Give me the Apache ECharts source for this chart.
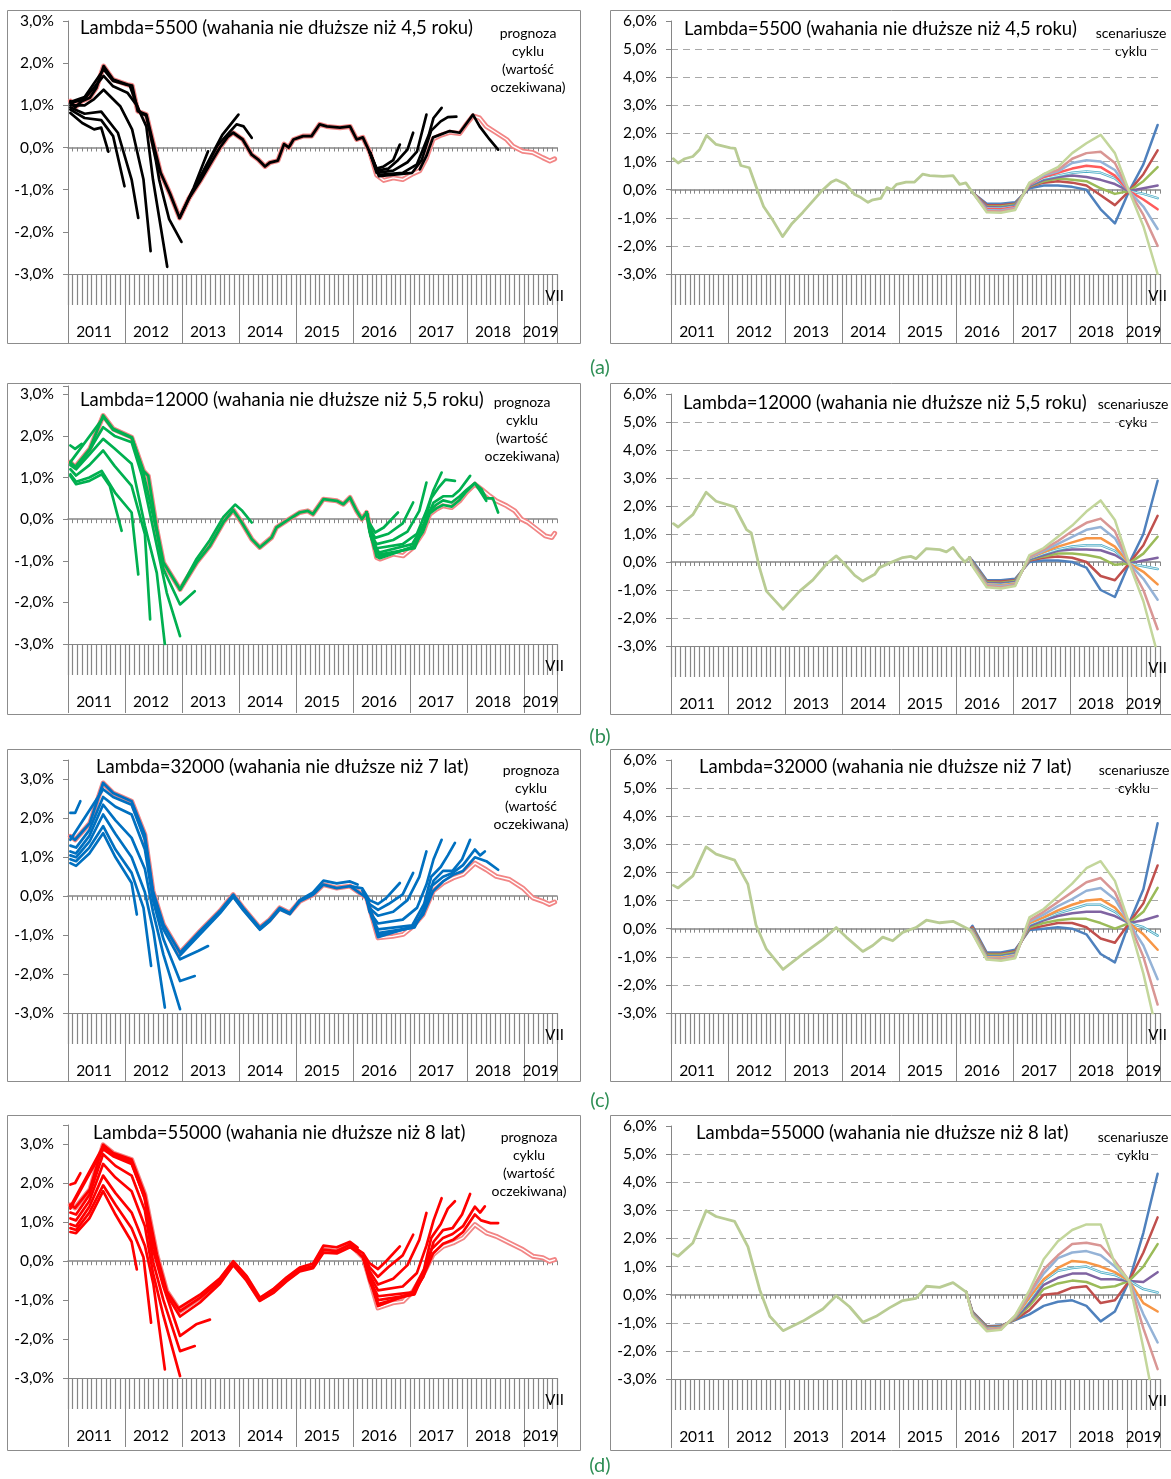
<!DOCTYPE html>
<html>
<head>
<meta charset="utf-8">
<script src="https://cdn.jsdelivr.net/npm/echarts@6/dist/echarts.min.js"></script>
<style>
  html, body { margin: 0; padding: 0; background: #fff; }
  #chart { width: 1171px; height: 1479px; }
</style>
</head>
<body>
<div id="chart"></div>
<script>
// miesiące 2011-01 .. 2019-07 (103 kategorie)
const YEARS = ['2011', '2012', '2013', '2014', '2015', '2016', '2017', '2018', '2019'];
const LAST_MONTH = 'VII';
const MONTHS = [];
YEARS.forEach(y => {
  for (let k = 1; k <= 12; k++) {
    if (y === '2019' && k > 7) break;
    MONTHS.push(y + '-' + (k < 10 ? '0' : '') + k);
  }
});

// [miesiąc od 2011-01, cykl %] - ostateczna ocena + prognoza (różowa linia)
const finalA = [[0,1.1],[1,0.95],[2.4,1.1],[4.1,1.18],[5.5,1.42],[7,1.93],[9,1.61],[12,1.49],[13,1.47],[14.2,0.86],[16,0.78],[17.4,0.12],[19,-0.6],[21,-1.1],[23,-1.67],[25,-1.2],[27.3,-0.8],[29.4,-0.4],[31.5,0],[33.2,0.26],[34.3,0.35],[36.3,0.19],[38.2,-0.17],[39.5,-0.28],[41,-0.45],[42,-0.36],[43.7,-0.31],[45,0.08],[46,0.0],[47,0.19],[49,0.27],[50.8,0.27],[52.5,0.55],[54,0.5],[56.8,0.47],[58.9,0.5],[60.3,0.19],[61.6,0.24],[63.1,-0.12],[64.5,-0.65],[66,-0.78],[68,-0.72],[70,-0.76],[72.2,-0.62],[73.6,-0.55],[75,-0.25],[76.4,0.2],[77.8,0.28],[79.9,0.36],[82,0.33],[83.4,0.55],[84.8,0.75],[86.2,0.7],[87.6,0.5],[89.7,0.35],[91.9,0.19],[93.2,0.03],[95.3,-0.09],[97.4,-0.12],[99.5,-0.24],[101,-0.32],[102,-0.27]];
const finalB = [[0,1.37],[1,1.25],[4.1,1.69],[6.9,2.49],[9,2.17],[12.9,1.97],[15.4,1.16],[16.4,1.04],[18.2,-0.24],[19.6,-1.04],[23.1,-1.69],[26.6,-1.04],[29.4,-0.64],[32.2,-0.08],[34.3,0.22],[36.1,-0.08],[38.2,-0.48],[39.9,-0.68],[42.4,-0.44],[43.4,-0.2],[45.5,-0.04],[48.3,0.16],[50,0.2],[51.1,0.12],[53.3,0.48],[56.1,0.44],[57.5,0.36],[58.9,0.52],[60.3,0.2],[61.4,0.0],[62.4,0.16],[64.5,-0.92],[65.2,-0.96],[68,-0.84],[70.1,-0.88],[72.2,-0.68],[74.3,-0.32],[75.7,0.12],[77.1,0.24],[78.5,0.32],[80.3,0.28],[82,0.44],[83.4,0.64],[85.2,0.84],[86.6,0.72],[88.3,0.56],[89.7,0.44],[91.9,0.32],[93.6,0.2],[95,0.0],[96.4,-0.08],[98.2,-0.24],[100,-0.4],[101.4,-0.44],[102,-0.34]];
const finalC = [[0,1.54],[1,1.45],[4.1,1.88],[6.9,2.91],[9,2.65],[12.9,2.44],[15.7,1.58],[17.4,0.13],[19.6,-0.73],[23.1,-1.45],[27.3,-0.9],[31.5,-0.38],[34.3,0.04],[36.4,-0.3],[39.9,-0.81],[42,-0.6],[44.1,-0.3],[46.2,-0.43],[48.3,-0.13],[51.1,0.04],[53.3,0.3],[56.1,0.21],[58.9,0.26],[62.4,-0.04],[64.8,-1.07],[67.9,-1.03],[70.1,-0.98],[72.2,-0.77],[74.3,-0.47],[76.4,0.13],[78.5,0.34],[80.6,0.47],[82.7,0.56],[85.2,0.85],[87.6,0.68],[89.7,0.51],[92.5,0.43],[95.3,0.21],[97.4,-0.04],[99.5,-0.13],[100.9,-0.21],[102,-0.15]];
const finalD = [[0,1.45],[1,1.37],[4.1,1.84],[6.9,2.99],[9,2.78],[12.9,2.61],[15.7,1.71],[18.2,0.17],[20.3,-0.77],[23.1,-1.28],[27.3,-0.94],[31.5,-0.51],[34.3,-0.04],[37.1,-0.43],[39.9,-0.98],[42.7,-0.77],[45.5,-0.47],[48.3,-0.21],[51.1,-0.13],[53.3,0.3],[56.1,0.26],[58.9,0.43],[61.7,0.09],[64.8,-1.2],[67.9,-1.07],[70.1,-1.03],[72.2,-0.77],[74.3,-0.34],[76.4,0.17],[78.5,0.38],[80.6,0.47],[82.7,0.6],[85.2,0.94],[87.6,0.73],[89.7,0.64],[92.5,0.47],[95.3,0.3],[97.4,0.13],[99.5,0.09],[100.9,0.0],[102,0.04]];

// kolejne oceny cyklu w czasie rzeczywistym (każda kończy się na innej dacie)
const vintagesA = [
  [[0,0.82],[2.5,0.58],[5,0.43],[6.5,0.47],[8,-0.1]],
  [[0,0.9],[3,0.7],[6.5,0.65],[9,0.27],[11.4,-0.92]],
  [[0,0.95],[3,0.8],[6.5,0.85],[10,0.35],[12.9,-0.76],[14.3,-1.67]],
  [[0,1.0],[3,1.0],[5,1.15],[7,1.37],[10.5,0.98],[13,0.43],[15.4,-0.76],[16.9,-2.46]],
  [[0,1.05],[3,1.15],[7,1.7],[9,1.45],[12,1.3],[14,1.0],[16,0.5],[17.4,-0.76],[20.4,-2.83]],
  [[0,1.08],[3,1.2],[7,1.85],[9,1.58],[12.5,1.47],[14.5,0.85],[16,0.75],[18,-0.3],[18.7,-0.76],[20.8,-1.7],[23.4,-2.24]],
  [[23,-1.67],[26,-0.95],[29,-0.09]],
  [[25,-1.2],[28.5,-0.45],[32,0.3],[35.4,0.78]],
  [[27,-0.8],[31,0.05],[35,0.55],[36.5,0.5],[38.2,0.23]],
  [[63.1,-0.12],[64.5,-0.5],[66,-0.45],[68,-0.3],[69.4,0.07]],
  [[63.1,-0.12],[64.5,-0.55],[67,-0.5],[69,-0.3],[71,-0.05],[72.2,0.35]],
  [[63.1,-0.12],[64.5,-0.6],[68,-0.55],[71,-0.35],[73,-0.1],[75,0.78]],
  [[63.1,-0.12],[65,-0.65],[70,-0.6],[73,-0.4],[75.5,0.3],[76.5,0.7],[78.2,0.94]],
  [[63.1,-0.12],[65,-0.68],[72,-0.6],[74,-0.3],[76,0.4],[78,0.62],[79.5,0.72],[81.3,0.73]],
  [[73.6,-0.52],[75,-0.2],[76.4,0.24],[79.9,0.39],[82,0.35],[84.8,0.78],[86.2,0.5],[88.3,0.19],[90.1,-0.05]]
];
const vintagesB = [
  [[0,1.77],[1,1.69],[2.4,1.81]],
  [[0,1.04],[1.2,0.84],[4,0.92],[6.6,1.08],[8.3,0.8],[10.8,-0.28]],
  [[0,1.08],[1.2,0.9],[4,1.0],[6.6,1.16],[9.4,0.64],[12.9,0.16],[14.3,-1.33]],
  [[0,1.2],[1.2,1.05],[4,1.3],[6.9,1.65],[9.3,1.28],[12.9,0.8],[15.7,-0.36],[16.8,-2.41]],
  [[0,1.3],[1.2,1.2],[4,1.55],[6.9,1.93],[9.3,1.7],[12.9,1.33],[15.7,-0.16],[18.2,-1.29],[19.9,-3.01]],
  [[0,1.35],[1.2,1.25],[4,1.65],[6.9,2.21],[9.3,2.0],[12.9,1.85],[15.1,1.04],[18.2,-0.64],[20.3,-1.77],[23.1,-2.81]],
  [[0,1.37],[7,2.45],[9,2.15],[13,1.95],[15.4,1.1],[18.2,-0.3],[19.6,-1.2],[23.1,-2.05],[26.2,-1.73]],
  [[23.1,-1.69],[26.6,-0.95],[29.4,-0.5],[32.2,0.05],[34.7,0.35],[36.2,0.2],[38.2,-0.08]],
  [[62.4,0.16],[63,-0.1],[64.2,-0.32],[66,-0.2],[69,0.16]],
  [[62.4,0.16],[63,-0.2],[64.2,-0.45],[67,-0.35],[70,-0.1],[72.2,0.4]],
  [[62.4,0.16],[63,-0.3],[64.5,-0.6],[68,-0.5],[71,-0.3],[73.5,0.2],[75,0.88]],
  [[62.4,0.16],[63.2,-0.4],[64.5,-0.7],[70,-0.6],[73,-0.35],[75,0.2],[76.5,0.7],[78.2,1.12]],
  [[62.4,0.16],[63.5,-0.5],[65,-0.8],[72,-0.6],[74.5,-0.1],[76,0.5],[77.5,0.75],[79,0.95],[81,0.92]],
  [[62.4,0.16],[63.8,-0.6],[65,-0.85],[72.5,-0.7],[75,0.0],[76.5,0.4],[78.5,0.55],[80.5,0.55],[82,0.7],[84.2,1.04]],
  [[62.4,0.16],[64,-0.7],[65.2,-0.9],[72.2,-0.68],[74.3,-0.25],[75.7,0.2],[77.1,0.35],[78.5,0.45],[80.3,0.4],[82,0.55],[83.4,0.7],[85.2,0.87],[86.6,0.62],[87.6,0.44]],
  [[62.4,0.16],[64.5,-0.9],[65.2,-0.94],[72.2,-0.66],[74.3,-0.3],[75.7,0.14],[77.1,0.26],[78.5,0.34],[80.3,0.3],[82,0.46],[83.4,0.66],[85.2,0.86],[86.6,0.72],[87.6,0.5],[89,0.5],[90.1,0.16]]
];
const vintagesC = [
  [[0,2.14],[1,2.14],[2.1,2.44]],
  [[0,0.85],[1.2,0.78],[4,1.1],[6.9,1.62],[9.5,1.0],[12.9,0.34],[14,-0.47]],
  [[0,0.95],[1.2,0.9],[4,1.25],[6.9,1.8],[9.5,1.2],[12.9,0.6],[15.4,-0.3],[17,-1.79]],
  [[0,1.05],[1.2,1.0],[4,1.4],[6.9,2.1],[9.5,1.6],[12.9,1.0],[15.7,0.1],[17.5,-0.9],[19.9,-2.86]],
  [[0,1.15],[1.2,1.1],[4,1.55],[6.9,2.35],[9.5,1.95],[12.9,1.5],[15.7,0.7],[17.4,-0.4],[19.6,-1.5],[23.1,-2.9]],
  [[0,1.3],[1.2,1.25],[4,1.7],[6.9,2.55],[9.5,2.3],[12.9,2.1],[15.7,1.2],[17.4,-0.1],[19.6,-1.1],[23.1,-2.18],[26.2,-2.05]],
  [[0,1.45],[6.9,2.75],[9,2.55],[12.9,2.35],[15.7,1.45],[17.4,0.05],[19.6,-0.85],[23.1,-1.62],[27,-1.4],[29,-1.28]],
  [[23.1,-1.52],[27.3,-0.98],[31.5,-0.44],[34.3,-0.02],[36.4,-0.36],[39.9,-0.86],[42,-0.64],[44.1,-0.34],[46.2,-0.46],[48.3,-0.1],[51.1,0.1],[53.3,0.4],[56.1,0.33],[58.9,0.38],[60.5,0.3]],
  [[58.9,0.26],[61.5,0.2],[63,-0.1],[64.8,-0.2],[66.5,-0.05],[69.4,0.34]],
  [[61.5,0.15],[63,-0.2],[64.8,-0.35],[67,-0.2],[70,0.05],[72.2,0.6]],
  [[62,0.05],[63,-0.3],[64.8,-0.5],[68,-0.4],[71,-0.1],[73.5,0.5],[75,1.15]],
  [[62.4,-0.04],[63,-0.4],[64.8,-0.7],[70,-0.6],[73,-0.3],[75,0.3],[76.5,0.95],[78.2,1.45]],
  [[62.4,-0.04],[63.5,-0.55],[64.8,-0.85],[72,-0.75],[74.5,-0.2],[76,0.5],[78,0.75],[79.5,1.05],[81,1.37]],
  [[62.4,-0.04],[64.8,-0.95],[72.5,-0.8],[75,-0.2],[76.5,0.4],[78.5,0.65],[80.5,0.65],[82.5,0.95],[84.2,1.45]],
  [[62.4,-0.04],[64.8,-1.0],[72.2,-0.8],[74.3,-0.45],[76,0.25],[78.5,0.5],[80.5,0.6],[82.7,0.8],[85.2,1.2],[86.3,1.05],[87.3,1.15]],
  [[62.4,-0.04],[64.8,-1.05],[72.2,-0.77],[74.3,-0.47],[76.4,0.13],[78.5,0.38],[80.6,0.55],[82.7,0.65],[85.2,1.0],[87.6,0.9],[90.1,0.68]]
];
const vintagesD = [
  [[0,1.97],[1,2.01],[2.1,2.26]],
  [[0,0.75],[1.2,0.72],[4,1.1],[6.9,1.8],[9.5,1.2],[12.9,0.5],[14,-0.21]],
  [[0,0.85],[1.2,0.8],[4,1.25],[6.9,1.95],[9.5,1.45],[12.9,0.85],[15.4,0.1],[17,-1.58]],
  [[0,0.95],[1.2,0.9],[4,1.4],[6.9,2.2],[9.5,1.75],[12.9,1.25],[15.7,0.4],[17.5,-0.6],[19.9,-2.78]],
  [[0,1.1],[1.2,1.05],[4,1.55],[6.9,2.5],[9.5,2.15],[12.9,1.8],[15.7,0.9],[17.4,-0.3],[19.6,-1.4],[23.1,-2.95]],
  [[0,1.25],[1.2,1.2],[4,1.7],[6.9,2.75],[9.5,2.45],[12.9,2.2],[15.7,1.3],[17.4,0.0],[19.6,-1.0],[23.1,-2.31],[26.2,-2.18]],
  [[0,1.4],[6.9,2.95],[9,2.75],[12.9,2.55],[15.7,1.6],[17.4,0.3],[19.6,-0.65],[23.1,-1.92],[26.5,-1.62],[29.4,-1.5]],
  [[0,1.35],[6.9,2.88],[9,2.7],[12.9,2.5],[15.7,1.62],[18.2,0.1],[20.3,-0.86],[23.1,-1.42],[27.3,-1.06],[31.5,-0.58],[34.3,-0.1],[37.1,-0.5],[39.9,-1.02],[42.7,-0.82],[45.5,-0.52],[48.3,-0.26],[51.1,-0.18],[53.3,0.22],[56.1,0.2],[58.9,0.36],[60.3,0.25]],
  [[23.1,-1.18],[27.3,-0.86],[31.5,-0.44],[34.3,0.0],[37.1,-0.38],[39.9,-0.94],[42.7,-0.72],[45.5,-0.42],[48.3,-0.16],[51.1,-0.06],[53.3,0.4],[56.1,0.36],[58.9,0.5],[60.5,0.35]],
  [[58.9,0.43],[61.7,0.2],[63,-0.05],[64.8,-0.2],[66.5,0.0],[69.4,0.38]],
  [[61.7,0.15],[63,-0.15],[64.8,-0.4],[67,-0.15],[70,0.15],[72.2,0.68]],
  [[61.7,0.1],[63,-0.25],[64.8,-0.6],[68,-0.45],[71,-0.1],[73.5,0.55],[75,1.24]],
  [[61.7,0.09],[63,-0.35],[64.8,-0.75],[70,-0.65],[73,-0.3],[75,0.4],[76.5,1.05],[78.2,1.62]],
  [[61.7,0.09],[63,-0.45],[64.8,-0.9],[72,-0.8],[74.5,-0.2],[76,0.6],[78,0.95],[79.5,1.35],[81,1.54]],
  [[61.7,0.09],[63,-0.5],[64.8,-1.0],[72.5,-0.85],[75,-0.15],[76.5,0.5],[78.5,0.8],[80.5,0.85],[82.5,1.2],[84.2,1.73]],
  [[61.7,0.09],[64.8,-1.1],[72.2,-0.85],[74.3,-0.4],[76,0.3],[78.5,0.6],[80.5,0.7],[82.7,0.9],[85.2,1.4],[86.3,1.25],[87.3,1.41]],
  [[61.7,0.09],[64.8,-1.15],[72.2,-0.8],[74.3,-0.4],[76.4,0.2],[78.5,0.45],[80.6,0.55],[82.7,0.75],[85.2,1.2],[86.5,1.05],[88.5,0.98],[90.1,0.98]]
];

// scenariusze cyklu: wartości w miesiącach scenMonths
// kolejność: niebieski, czerwony, zielony, fioletowy, turkusowy, pomarańczowy, jasnoniebieski, różowy, jasnozielony
const scenMonths = [63, 66, 69, 72, 75, 78, 81, 84, 87, 90, 93, 96, 99, 102];
const scenA = [
  [-0.05,-0.5,-0.5,-0.45,0.05,0.15,0.15,0.1,0.0,-0.7,-1.2,-0.05,0.9,2.3],
  [-0.07,-0.55,-0.55,-0.5,0.1,0.25,0.3,0.25,0.15,-0.2,-0.55,-0.05,0.55,1.4],
  [-0.08,-0.6,-0.6,-0.53,0.12,0.3,0.4,0.35,0.3,0.05,-0.15,-0.05,0.3,0.8],
  [-0.1,-0.62,-0.63,-0.56,0.14,0.35,0.45,0.5,0.45,0.35,0.2,-0.05,0.05,0.15],
  [-0.11,-0.65,-0.66,-0.59,0.16,0.4,0.5,0.6,0.65,0.6,0.4,-0.05,-0.15,-0.3],
  [-0.12,-0.68,-0.7,-0.62,0.18,0.45,0.6,0.75,0.85,0.8,0.5,-0.05,-0.35,-0.7],
  [-0.13,-0.72,-0.74,-0.65,0.2,0.5,0.65,0.95,1.05,1.0,0.7,-0.05,-0.6,-1.4],
  [-0.14,-0.76,-0.78,-0.68,0.22,0.55,0.7,1.1,1.3,1.35,0.95,-0.05,-0.9,-2.0],
  [-0.15,-0.8,-0.82,-0.72,0.25,0.55,0.8,1.3,1.65,1.95,1.3,-0.05,-1.3,-3.0]
];
const scenB = [
  [0.05,-0.65,-0.65,-0.6,0.0,0.05,0.05,0.0,-0.2,-1.0,-1.25,-0.05,1.0,2.9],
  [0.0,-0.7,-0.7,-0.65,0.05,0.15,0.2,0.15,0.0,-0.5,-0.65,-0.05,0.6,1.65],
  [-0.02,-0.72,-0.74,-0.68,0.08,0.2,0.3,0.3,0.25,0.15,-0.1,-0.05,0.3,0.9],
  [-0.04,-0.75,-0.77,-0.71,0.1,0.25,0.4,0.45,0.45,0.42,0.25,-0.05,0.05,0.15],
  [-0.06,-0.78,-0.8,-0.74,0.12,0.3,0.45,0.55,0.6,0.6,0.4,-0.05,-0.15,-0.25],
  [-0.08,-0.8,-0.83,-0.77,0.15,0.35,0.55,0.7,0.85,0.85,0.55,-0.05,-0.35,-0.8],
  [-0.1,-0.83,-0.86,-0.8,0.17,0.4,0.65,0.9,1.15,1.25,0.85,-0.05,-0.6,-1.35],
  [-0.12,-0.86,-0.9,-0.83,0.2,0.45,0.75,1.1,1.4,1.55,1.1,-0.05,-1.0,-2.4],
  [-0.15,-0.9,-0.95,-0.86,0.25,0.5,0.9,1.3,1.8,2.2,1.5,-0.05,-1.4,-3.3]
];
const scenC = [
  [0.1,-0.85,-0.85,-0.75,-0.05,0.0,0.05,0.0,-0.2,-0.9,-1.2,0.2,1.4,3.75],
  [0.05,-0.9,-0.9,-0.8,0.0,0.1,0.2,0.2,0.05,-0.35,-0.5,0.2,0.9,2.25],
  [0.0,-0.93,-0.93,-0.84,0.05,0.2,0.3,0.35,0.35,0.2,0.0,0.2,0.6,1.45],
  [-0.03,-0.96,-0.97,-0.88,0.1,0.3,0.45,0.55,0.6,0.6,0.45,0.2,0.3,0.45],
  [-0.06,-0.99,-1.0,-0.92,0.15,0.35,0.55,0.7,0.85,0.85,0.6,0.2,0.05,-0.25],
  [-0.09,-1.02,-1.03,-0.95,0.2,0.4,0.65,0.85,1.0,1.05,0.75,0.2,-0.2,-0.75],
  [-0.12,-1.05,-1.07,-0.98,0.25,0.5,0.8,1.05,1.35,1.45,1.05,0.2,-0.6,-1.8],
  [-0.15,-1.08,-1.1,-1.02,0.3,0.6,0.95,1.3,1.65,1.8,1.3,0.2,-1.0,-2.7],
  [-0.18,-1.1,-1.14,-1.05,0.4,0.7,1.15,1.6,2.15,2.4,1.7,0.2,-1.6,-3.8]
];
const scenD = [
  [-0.6,-1.12,-1.1,-0.9,-0.7,-0.4,-0.25,-0.2,-0.4,-0.95,-0.6,0.49,2.2,4.3],
  [-0.62,-1.14,-1.12,-0.88,-0.55,0.0,0.05,0.25,0.3,-0.3,-0.2,0.49,1.5,2.75],
  [-0.64,-1.16,-1.14,-0.86,-0.4,0.2,0.4,0.5,0.45,0.25,0.3,0.49,1.0,1.8],
  [-0.66,-1.18,-1.15,-0.84,-0.3,0.35,0.6,0.75,0.75,0.55,0.55,0.49,0.45,0.8],
  [-0.68,-1.2,-1.16,-0.82,-0.2,0.5,0.85,0.95,1.0,0.8,0.7,0.49,0.2,0.08],
  [-0.7,-1.22,-1.18,-0.8,-0.1,0.55,0.95,1.2,1.15,1.0,0.8,0.49,-0.3,-0.6],
  [-0.72,-1.24,-1.2,-0.78,0.0,0.75,1.3,1.5,1.55,1.4,1.0,0.49,-0.7,-1.7],
  [-0.74,-1.26,-1.22,-0.76,0.05,0.9,1.4,1.8,1.85,1.75,1.2,0.49,-1.2,-2.65],
  [-0.76,-1.3,-1.25,-0.74,0.15,1.26,1.9,2.3,2.5,2.5,1.1,0.49,-1.9,-4.5]
];

const titles = [
  'Lambda=5500 (wahania nie dłuższe niż 4,5 roku)',
  'Lambda=12000 (wahania nie dłuższe niż 5,5 roku)',
  'Lambda=32000 (wahania nie dłuższe niż 7 lat)',
  'Lambda=55000 (wahania nie dłuższe niż 8 lat)'
];
const noteLeft = 'prognoza\ncyklu\n(wartość\noczekiwana)';
const noteRight = ['scenariusze\ncyklu', 'scenariusze\ncyku', 'scenariusze\ncyklu', 'scenariusze\ncyklu'];
const captions = ['(a)', '(b)', '(c)', '(d)'];

const GRAY = '#868686';
const FONT = 'Lato, "DejaVu Sans", sans-serif';
const PINK = '#f28585';
const T = 'rgba(0,0,0,0)';
const G = '#a8a8a8';
const SPLIT_COLORS = [T, G, G, T, G, G, G, G, G, T];
const COLORS_A = ['#4f81bd', '#c0504d', '#9bbb59', '#8064a2', '#4bacc6', '#ff5b5b', '#95b3d7', '#d99694', '#c3d69b'];
const COLORS_BCD = ['#4f81bd', '#c0504d', '#9bbb59', '#8064a2', '#4bacc6', '#f79646', '#95b3d7', '#d99694', '#c3d69b'];

// rozmieszczenie paneli (wiersz a..d, kolumna lewa/prawa)
const panels = [
  { left: 68,  top: 21,   h: 253, ymax: 3,   frame: [7, 10, 573, 333] },
  { left: 671, top: 21,   h: 253, ymax: 6,   frame: [610, 10, 570, 333] },
  { left: 68,  top: 386,  h: 258, ymax: 3.2, frame: [7, 383, 573, 331] },
  { left: 671, top: 394,  h: 252, ymax: 6,   frame: [610, 383, 570, 331] },
  { left: 68,  top: 760,  h: 253, ymax: 3.5, frame: [7, 749, 573, 332] },
  { left: 671, top: 760,  h: 253, ymax: 6,   frame: [610, 749, 570, 332] },
  { left: 68,  top: 1125, h: 253, ymax: 3.5, frame: [7, 1115, 573, 335] },
  { left: 671, top: 1126, h: 253, ymax: 6,   frame: [610, 1115, 570, 335] }
];
const titlePos = [[80, 28], [684, 29], [80, 400], [683, 403], [96, 767], [699, 767], [93, 1133], [696, 1133]];
const notePos = [[528, 33], [1131, 33], [522, 402], [1133, 404], [531, 770], [1134, 770], [529, 1137], [1133, 1137]];
const captionY = [368, 737, 1101, 1466];

const leftSets = [
  { final: finalA, vint: vintagesA, color: '#000000', cut: 63.1 },
  { final: finalB, vint: vintagesB, color: '#00b050', cut: 62.4 },
  { final: finalC, vint: vintagesC, color: '#0070c0', cut: 62.4 },
  { final: finalD, vint: vintagesD, color: '#ff0000', cut: 61.7 }
];
const rightSets = [
  { hist: finalA, cut: 63.1, scen: scenA, colors: COLORS_A },
  { hist: finalB, cut: 62.4, scen: scenB, colors: COLORS_BCD },
  { hist: finalC, cut: 62.4, scen: scenC, colors: COLORS_BCD },
  { hist: finalD, cut: 61.7, scen: scenD, colors: COLORS_BCD }
];

function pctLabel(v) {
  if (Math.abs(v - Math.round(v)) > 1e-6) return '';
  return v.toFixed(1).replace('.', ',') + '%';
}

const option = {
  animation: false,
  backgroundColor: '#ffffff',
  textStyle: { fontFamily: FONT },
  grid: [], xAxis: [], yAxis: [], series: [], graphic: []
};

panels.forEach((p, i) => {
  const isRight = p.ymax === 6;
  option.grid.push({ left: p.left, top: p.top, width: 489, height: p.h, containLabel: false, outerBoundsMode: 'none', show: false });
  option.yAxis.push({
    type: 'value', gridIndex: i, min: -3, max: p.ymax, interval: 1,
    axisLine: { show: true, onZero: false, lineStyle: { color: GRAY, width: 1 } },
    axisTick: { show: true, length: 5, lineStyle: { color: GRAY } },
    axisLabel: { show: true, margin: 14, color: '#000', fontSize: 15.5, fontFamily: FONT, formatter: pctLabel },
    splitLine: isRight ? { show: true, lineStyle: { color: SPLIT_COLORS, type: [7, 5], width: 1 } } : { show: false }
  });
  // oś danych (ukryta)
  option.xAxis.push({ type: 'value', gridIndex: i, min: -0.5, max: 102.5, show: false, axisLine: { onZero: false } });
  // linia zera z kreskami miesięcy
  option.xAxis.push({
    type: 'category', gridIndex: i, data: MONTHS, position: 'bottom',
    axisLine: { show: true, onZero: true, lineStyle: { color: GRAY, width: 1.5 } },
    axisTick: { show: true, interval: 0, length: 4, lineStyle: { color: GRAY } },
    axisLabel: { show: false }, splitLine: { show: false }
  });
  // długie kreski miesięcy pod wykresem
  option.xAxis.push({
    type: 'category', gridIndex: i, data: MONTHS, position: 'bottom',
    axisLine: { show: true, onZero: false, lineStyle: { color: GRAY, width: 1 } },
    axisTick: { show: true, interval: 0, length: 31, lineStyle: { color: GRAY, width: 1.2 } },
    axisLabel: { show: true, interval: idx => idx === MONTHS.length - 1, formatter: () => LAST_MONTH, margin: 15, color: '#000', fontSize: 15, fontFamily: FONT },
    splitLine: { show: false }
  });
  // lata
  option.xAxis.push({
    type: 'category', gridIndex: i, data: MONTHS, position: 'bottom', offset: 31,
    axisLine: { show: false, onZero: false },
    axisTick: { show: true, interval: idx => idx % 12 === 0, length: 38, lineStyle: { color: GRAY, width: 1 } },
    axisLabel: { show: true, interval: idx => idx % 12 === 5 || idx === 99, formatter: v => v.slice(0, 4), margin: 19, color: '#000', fontSize: 15.5, fontFamily: FONT },
    splitLine: { show: false }
  });

  const f = p.frame;
  option.graphic.push({ type: 'rect', silent: true, z: -1, shape: { x: f[0] + 0.5, y: f[1] + 0.5, width: f[2], height: f[3] }, style: { fill: 'none', stroke: '#8c8c8c', lineWidth: 1 } });
  option.graphic.push({ type: 'text', silent: true, x: titlePos[i][0], y: titlePos[i][1],
    style: { text: titles[Math.floor(i / 2)], font: '18.5px ' + FONT, fill: '#000', verticalAlign: 'middle', textVerticalAlign: 'middle' } });
  const note = isRight ? noteRight[Math.floor(i / 2)] : noteLeft;
  option.graphic.push({ type: 'text', silent: true, x: notePos[i][0], y: notePos[i][1] - 9,
    style: { text: note, font: '14px ' + FONT, fill: '#000', align: 'center', textAlign: 'center', verticalAlign: 'top', textVerticalAlign: 'top', lineHeight: 18 } });
});

captions.forEach((c, r) => {
  option.graphic.push({ type: 'text', silent: true, x: 600, y: captionY[r],
    style: { text: c, font: '20px ' + FONT, fill: '#2f8f56', align: 'center', textAlign: 'center', verticalAlign: 'middle', textVerticalAlign: 'middle' } });
});

function line(gi, data, color, width) {
  return {
    type: 'line', xAxisIndex: gi * 4, yAxisIndex: gi, data: data,
    symbol: 'none', showSymbol: false, silent: true, clip: true,
    lineStyle: { color: color, width: width, cap: 'round', join: 'round' },
    itemStyle: { color: color }, emphasis: { disabled: true }
  };
}

leftSets.forEach((s, r) => {
  const gi = r * 2;
  option.series.push(line(gi, s.final, PINK, 5));
  option.series.push(line(gi, s.final, '#ffffff', 1.4));
  option.series.push(line(gi, s.final.filter(pt => pt[0] <= s.cut), s.color, 2.8));
  s.vint.forEach(v => option.series.push(line(gi, v, s.color, 2.7)));
});

rightSets.forEach((s, r) => {
  const gi = r * 2 + 1;
  const hist = s.hist.filter(pt => pt[0] <= s.cut);
  const start = hist[hist.length - 1];
  s.scen.forEach((vals, k) => {
    const data = [start].concat(scenMonths.map((m, j) => [m, vals[j]]));
    option.series.push(line(gi, data, s.colors[k], 2.5));
    if (k === 4) option.series.push(line(gi, data, '#ffffff', 0.8));
  });
  option.series.push(line(gi, hist, '#b9cc94', 2.8));
});

const chart = echarts.init(document.getElementById('chart'), null, { renderer: 'canvas' });
chart.setOption(option);
</script>
</body>
</html>
